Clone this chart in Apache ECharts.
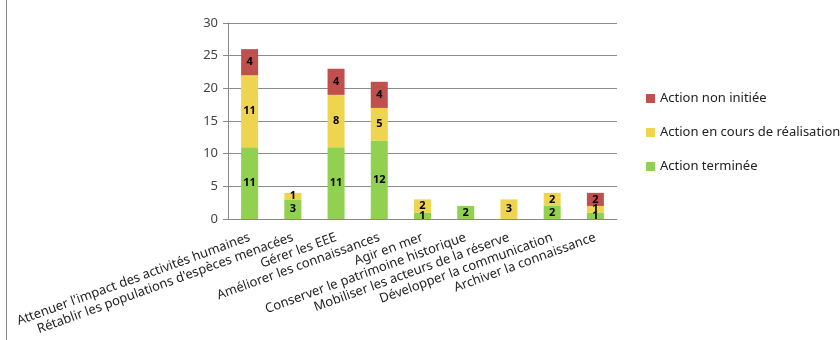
<!DOCTYPE html>
<html>
<head>
<meta charset="utf-8">
<script src="https://cdn.jsdelivr.net/npm/echarts@6/dist/echarts.min.js"></script>
<style>
  html, body { margin: 0; padding: 0; background: #fff; }
  #chart { width: 840px; height: 340px; }
</style>
</head>
<body>
<div id="chart"></div>
<script>
// Actions par objectif, ventilées selon leur état d'avancement
const categories = [
  "Attenuer l'impact des activités humaines",
  "Rétablir les populations d'espèces menacées",
  "Gérer les EEE",
  "Améliorer les connaissances",
  "Agir en mer",
  "Conserver le patrimoine historique",
  "Mobiliser les acteurs de la réserve",
  "Développer la communication",
  "Archiver la connaissance"
];
const terminee = [11, 3, 11, 12, 1, 2, 0, 2, 1];
const enCours = [11, 1, 8, 5, 2, 0, 3, 2, 1];
const nonInitiee = [4, 0, 4, 4, 0, 0, 0, 0, 2];
const yTicks = [0, 5, 10, 15, 20, 25, 30];

const FONT = 'Noto Sans';
const chart = echarts.init(document.getElementById('chart'), null, { renderer: 'canvas' });

const segLabel = {
  show: true,
  position: 'inside',
  color: '#000',
  fontWeight: 'bold',
  fontSize: 11,
  fontFamily: FONT,
  formatter: p => (p.value ? String(p.value) : '')
};

function stackSeries(name, data, color) {
  return {
    name, type: 'bar', stack: 'etat', data,
    barWidth: 17,
    itemStyle: { color },
    label: segLabel,
    emphasis: { disabled: true }
  };
}

chart.setOption({
  animation: false,
  textStyle: { fontFamily: FONT },
  grid: { left: 228, right: 223, top: 23, bottom: 121, containLabel: false },
  legend: {
    orient: 'vertical',
    left: 641, top: 87,
    itemGap: 21,
    itemWidth: 9, itemHeight: 9,
    icon: 'rect',
    textStyle: { fontSize: 13, color: '#222', fontFamily: FONT },
    data: ['Action non initiée', 'Action en cours de réalisation', 'Action terminée']
  },
  xAxis: {
    type: 'category',
    data: categories,
    axisLine: { lineStyle: { color: '#888' } },
    axisTick: { length: 5, lineStyle: { color: '#888' } },
    axisLabel: { interval: 0, rotate: 20, fontSize: 13, color: '#222', margin: 18, fontFamily: FONT }
  },
  yAxis: {
    type: 'value',
    min: yTicks[0], max: yTicks[yTicks.length - 1], interval: 5,
    axisLine: { show: true, lineStyle: { color: '#888' } },
    axisTick: { show: true, length: 5, lineStyle: { color: '#888' } },
    splitLine: { lineStyle: { color: '#8c8c8c' } },
    axisLabel: { fontSize: 13, color: '#444', margin: 10, fontFamily: FONT }
  },
  graphic: [
    { type: 'line', shape: { x1: 6.5, y1: 0, x2: 6.5, y2: 340 }, style: { stroke: '#888', lineWidth: 1 } }
  ],
  series: [
    stackSeries('Action terminée', terminee, '#92D050'),
    stackSeries('Action en cours de réalisation', enCours, '#EFD54F'),
    stackSeries('Action non initiée', nonInitiee, '#C0504D')
  ]
});
</script>
</body>
</html>
